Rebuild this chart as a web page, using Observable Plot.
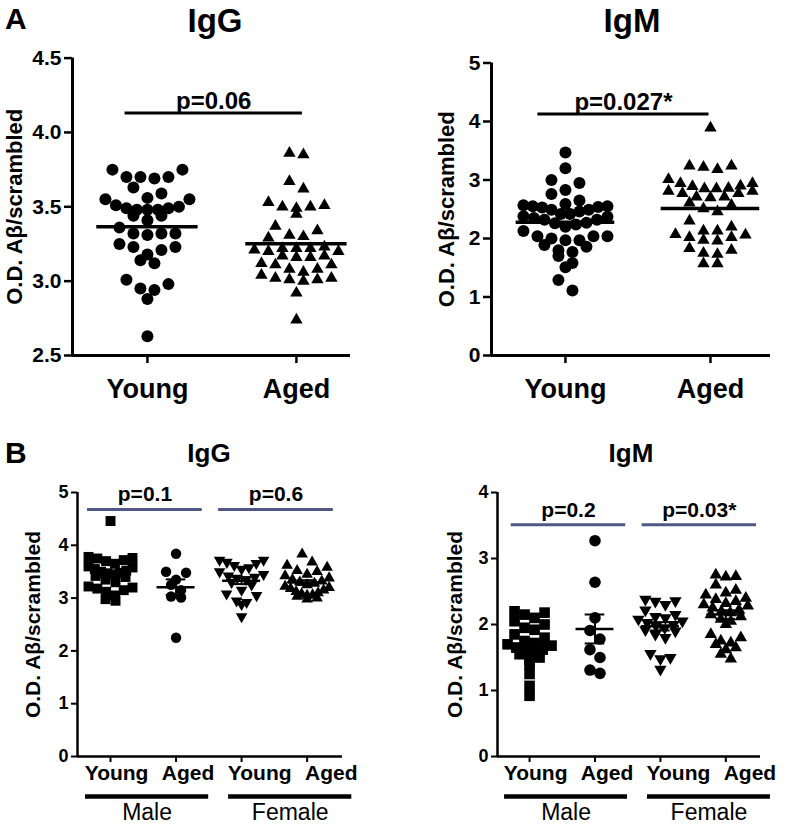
<!DOCTYPE html>
<html>
<head>
<meta charset="utf-8">
<script src="https://cdn.jsdelivr.net/npm/d3@7"></script>
<script src="https://cdn.jsdelivr.net/npm/@observablehq/plot@0.6"></script>
<style>
  body { margin: 0; background: #fff; }
  #fig { position: relative; width: 787px; height: 826px; overflow: hidden; background: #fff;
         font-family: "Liberation Sans", Arial, Helvetica, sans-serif; color: #000; }
  .lbl { position: absolute; font-weight: bold; line-height: 1; white-space: nowrap; }
  .ctr { transform: translateX(-50%); }
  .pnl { position: absolute; }
</style>
</head>
<body>
<div id="fig"></div>
<script>
// ---------------- DATA ----------------
const groupsA = ["Young", "Aged"];
const groupsB = ["Young", "Aged", "Young", "Aged"];
const sexesB = ["Male", "Female"];

const yTicksAIgG = [2.5, 3.0, 3.5, 4.0, 4.5];
const yTicksAIgM = [0, 1, 2, 3, 4, 5];
const yTicksBIgG = [0, 1, 2, 3, 4, 5];
const yTicksBIgM = [0, 1, 2, 3, 4];

// Panel A, IgG
const aIgGYoung = [3.75, 3.70, 3.70, 3.69, 3.70, 3.75, 3.59, 3.55, 3.55, 3.56, 3.63, 3.50, 3.48, 3.48, 3.44, 3.44,
  3.51, 3.49, 3.48, 3.49, 3.41, 3.36, 3.32, 3.31, 3.32, 3.32, 3.25, 3.23, 3.18, 3.14, 3.12, 3.21, 3.23, 2.98,
  3.01, 2.94, 2.88, 2.95, 2.63];
const aIgGAged = [3.86, 3.85, 3.67, 3.62, 3.53, 3.50, 3.49, 3.50, 3.51, 3.45, 3.37, 3.31, 3.34, 3.29, 3.30, 3.17,
  3.22, 3.16, 3.21, 3.20, 3.20, 3.22, 3.23, 3.22, 3.16, 3.17, 3.11, 3.08, 3.06, 3.08, 3.11, 3.12, 3.02, 3.01,
  3.00, 3.01, 3.02, 3.04, 2.92, 2.74];
// Panel A, IgM
const aIgMYoung = [3.47, 3.20, 2.95, 3.00, 2.83, 2.76, 2.65, 2.57, 2.55, 2.53, 2.54, 2.55, 2.59, 2.49, 2.49, 2.42,
  2.38, 2.35, 2.32, 2.26, 2.24, 2.27, 2.32, 2.37, 2.42, 2.46, 2.20, 2.13, 2.04, 2.00, 1.97, 1.86, 1.89, 1.97,
  2.04, 2.04, 1.77, 1.58, 1.51, 1.70, 1.80, 1.29, 1.11];
const aIgMAged = [3.89, 3.24, 3.22, 3.18, 3.24, 3.01, 2.94, 2.94, 2.90, 2.89, 2.85, 2.81, 2.77, 2.71, 2.70, 2.71,
  2.77, 2.81, 2.85, 2.86, 2.61, 2.51, 2.46, 2.57, 2.30, 2.13, 2.06, 2.02, 1.96, 1.97, 2.02, 2.07, 2.13, 2.20,
  1.80, 1.73, 1.75, 1.83, 1.57, 1.57];
// Panel B, IgG
const bIgGMaleYoung = [4.46, 3.78, 3.76, 3.75, 3.72, 3.70, 3.65, 3.60, 3.58, 3.55, 3.52, 3.50, 3.48, 3.47, 3.45,
  3.42, 3.40, 3.35, 3.30, 3.22, 3.20, 3.18, 3.15, 3.12, 3.05, 2.98, 2.95];
const bIgGMaleAged = [3.84, 3.50, 3.48, 3.35, 3.25, 3.15, 3.03, 3.01, 2.25];
const bIgGFemaleYoung = [3.72, 3.72, 3.68, 3.66, 3.62, 3.58, 3.55, 3.50, 3.45, 3.42, 3.40, 3.38, 3.35, 3.30, 3.25,
  3.15, 3.08, 3.05, 2.95, 2.92, 2.88, 2.65];
const bIgGFemaleAged = [3.83, 3.68, 3.62, 3.58, 3.52, 3.50, 3.45, 3.42, 3.38, 3.35, 3.32, 3.30, 3.28, 3.25, 3.22,
  3.20, 3.18, 3.15, 3.12, 3.10, 3.08, 3.06, 3.05, 3.03, 3.00, 2.98];
// Panel B, IgM
const bIgMMaleYoung = [2.20, 2.18, 2.15, 2.10, 2.05, 2.00, 1.95, 1.92, 1.85, 1.80, 1.75, 1.72, 1.70, 1.68, 1.65,
  1.62, 1.60, 1.58, 1.55, 1.50, 1.45, 1.40, 1.25, 1.07, 0.92];
const bIgMMaleAged = [3.27, 2.64, 2.10, 1.91, 1.78, 1.62, 1.50, 1.26, 1.31];
const bIgMFemaleYoung = [2.38, 2.36, 2.35, 2.30, 2.22, 2.15, 2.12, 2.10, 2.08, 2.05, 2.03, 2.00, 1.98, 1.95, 1.92,
  1.90, 1.85, 1.80, 1.56, 1.50, 1.48, 1.32];
const bIgMFemaleAged = [2.75, 2.73, 2.72, 2.60, 2.52, 2.48, 2.45, 2.40, 2.38, 2.35, 2.32, 2.30, 2.28, 2.25, 2.22,
  2.20, 2.18, 2.15, 2.12, 2.08, 2.05, 2.00, 1.85, 1.80, 1.75, 1.72, 1.70, 1.65, 1.62, 1.55, 1.48];

// p-value comparisons: group indices (1-based), level, label
const compsAIgG = [{a: 1, b: 2, y: 4.13, label: "p=0.06"}];
const compsAIgM = [{a: 1, b: 2, y: 4.13, label: "p=0.027*"}];
const compsBIgG = [{a: 1, b: 2, y: 4.68, label: "p=0.1"}, {a: 3, b: 4, y: 4.68, label: "p=0.6"}];
const compsBIgM = [{a: 1, b: 2, y: 3.51, label: "p=0.2"}, {a: 3, b: 4, y: 3.51, label: "p=0.03*"}];
const sexSpan = [{sex: sexesB[0], a: 1, b: 2}, {sex: sexesB[1], a: 3, b: 4}];

const yLabel = "O.D. A\u03b2/scrambled";

// ---------------- DRAWING ----------------
const SQ3 = Math.sqrt(3);
const triangleDown = {
  draw(ctx, size) {
    const y = -Math.sqrt(size / (SQ3 * 3));
    ctx.moveTo(0, -2 * y);
    ctx.lineTo(-SQ3 * y, y);
    ctx.lineTo(SQ3 * y, y);
    ctx.closePath();
  }
};

// GraphPad-like scatter: values close in y share a row and are spread horizontally
function swarm(values, pxY, pxX, rowPx, stepPx, maxPx) {
  const idx = d3.range(values.length).sort((a, b) => values[b] - values[a]);
  const off = new Array(values.length).fill(0);
  let i = 0;
  while (i < idx.length) {
    const start = values[idx[i]];
    let j = i;
    while (j < idx.length && (start - values[idx[j]]) * pxY < rowPx) j++;
    const row = idx.slice(i, j);
    const n = row.length;
    const step = n > 1 ? Math.min(stepPx, maxPx / (n - 1)) : 0;
    const slots = d3.range(n).map(k => (k - (n - 1) / 2) * step);
    const order = d3.range(n).sort((p, q) => Math.abs(slots[q]) - Math.abs(slots[p]) || slots[p] - slots[q]);
    row.forEach((r, k) => off[r] = slots[order[k]] / pxX);
    i = j;
  }
  return off;
}

function makePanel(o) {
  const pxX = (o.width - o.mL - o.mR) / (o.xDomain[1] - o.xDomain[0]);
  const pxY = (o.height - o.mT - o.mB) / (o.yDomain[1] - o.yDomain[0]);
  const points = [];
  const stats = [];
  o.series.forEach((vals, gi) => {
    const off = swarm(vals, pxY, pxX, o.rowPx, o.stepPx, o.maxPx);
    vals.forEach((v, k) => points.push({g: gi + 1, v, x: gi + 1 + off[k]}));
    const m = d3.mean(vals);
    const sem = d3.deviation(vals) / Math.sqrt(vals.length);
    stats.push({g: gi + 1, mean: m, lo: m - sem, hi: m + sem});
  });
  const y0 = o.yDomain[0];
  const marks = [
    Plot.ruleX([o.xDomain[0]], {stroke: "black", strokeWidth: o.axisW}),
    Plot.ruleY([y0], {stroke: "black", strokeWidth: o.axisW}),
    Plot.axisY({ticks: o.yTicks, tickFormat: o.yFmt, tickSize: o.tickLen, tickPadding: 3,
      fontSize: o.tickFont, fontWeight: "bold", strokeWidth: o.tickW, label: null}),
    Plot.axisX({ticks: o.groups.map((_, i) => i + 1), tickFormat: () => "", tickSize: o.tickLen,
      strokeWidth: o.tickW, label: null}),
    Plot.text(o.groups.map((g, i) => ({i: i + 1, g})), {
      x: d => d.i * o.labelSpread, y: y0, text: "g", dy: o.catDy, lineAnchor: "top",
      fontSize: o.catFont, fontWeight: "bold", fill: "black"}),
    Plot.text([yLabel], {frameAnchor: "left", textAnchor: "middle", lineAnchor: "middle",
      rotate: -90, dx: -o.yLabelOff, text: d => d,
      fontSize: o.yLabelFont, fontWeight: "bold", fill: "black"})
  ];
  o.series.forEach((_, gi) => {
    marks.push(Plot.dot(points.filter(p => p.g === gi + 1), {
      x: "x", y: "v", r: o.radii[gi], symbol: o.symbols[gi], fill: "black", stroke: "none"}));
  });
  marks.push(Plot.ruleY(stats, {y: "mean", x1: d => d.g - o.meanHalf, x2: d => d.g + o.meanHalf,
    stroke: "black", strokeWidth: o.meanW}));
  if (o.sem) {
    marks.push(Plot.ruleY(stats, {y: "lo", x1: d => d.g - o.capHalf, x2: d => d.g + o.capHalf, stroke: "black", strokeWidth: o.semW}));
    marks.push(Plot.ruleY(stats, {y: "hi", x1: d => d.g - o.capHalf, x2: d => d.g + o.capHalf, stroke: "black", strokeWidth: o.semW}));
    marks.push(Plot.ruleX(stats, {x: "g", y1: "lo", y2: "hi", stroke: "black", strokeWidth: o.semW}));
  }
  const px1 = d => d.a - o.pExt[0], px2 = d => d.b + o.pExt[1];
  marks.push(Plot.ruleY(o.comps, {y: "y", x1: px1, x2: px2, stroke: o.pColor, strokeWidth: o.pW}));
  marks.push(Plot.text(o.comps, {x: d => (px1(d) + px2(d)) / 2, y: "y", text: "label", dy: -o.pGap,
    lineAnchor: "bottom", fontSize: o.pFont, fontWeight: "bold", fill: "black"}));
  if (o.sexes) {
    const sc = d => (d.a + d.b) / 2 * o.labelSpread - 0.08;
    marks.push(Plot.ruleY(o.sexes, {y: y0, x1: d => sc(d) - o.sexHalf, x2: d => sc(d) + o.sexHalf,
      dy: o.barDy, stroke: "black", strokeWidth: 4.5}));
    marks.push(Plot.text(o.sexes, {x: sc, y: y0, text: "sex", dy: o.sexDy, lineAnchor: "bottom",
      fontSize: o.sexFont, fontWeight: "normal", fill: "black"}));
  }
  const svg = Plot.plot({
    width: o.width, height: o.height,
    marginLeft: o.mL, marginRight: o.mR, marginTop: o.mT, marginBottom: o.mB,
    x: {type: "linear", domain: o.xDomain},
    y: {type: "linear", domain: o.yDomain},
    style: {fontFamily: '"Liberation Sans", Arial, Helvetica, sans-serif', color: "black",
      background: "transparent", overflow: "visible"},
    marks
  });
  const holder = document.createElement("div");
  holder.className = "pnl";
  holder.style.left = o.left + "px";
  holder.style.top = o.top + "px";
  holder.appendChild(svg);
  document.getElementById("fig").appendChild(holder);
}

const fmt1 = d3.format(".1f");
const fmt0 = d3.format("d");

const commonA = {top: 40, height: 380, mB: 65, rowPx: 11, stepPx: 14, maxPx: 84,
  axisW: 3, tickW: 2.5, tickLen: 8, tickFont: 21, catFont: 27, catDy: 23, labelSpread: 1,
  yLabelFont: 22, meanHalf: 0.34, meanW: 3.5, pColor: "black", pW: 3, pGap: 4, pFont: 24,
  radii: [6, 4.6], symbols: ["circle", "triangle"]};

makePanel({...commonA, left: 0, width: 370, mL: 72, mR: 20, mT: 17.6,
  xDomain: [0.497, 2.363], yDomain: [2.5, 4.5], yTicks: yTicksAIgG, yFmt: fmt1,
  groups: groupsA, series: [aIgGYoung, aIgGAged], yLabelOff: 58,
  comps: compsAIgG, pExt: [0.15, 0.04]});

makePanel({...commonA, left: 400, width: 387, mL: 91, mR: 17, mT: 22.5,
  xDomain: [0.49, 2.414], yDomain: [0, 5], yTicks: yTicksAIgM, yFmt: fmt0,
  groups: groupsA, series: [aIgMYoung, aIgMAged], yLabelOff: 45,
  comps: compsAIgM, pExt: [0.19, -0.01]});

const commonB = {top: 470, height: 356, mT: 22, mB: 70, rowPx: 9, stepPx: 10, maxPx: 44,
  axisW: 2.5, tickW: 2, tickLen: 6, tickFont: 18, catFont: 21, catDy: 9, labelSpread: 1.092,
  yLabelFont: 21, meanHalf: 0.29, meanW: 2.5, sem: true, capHalf: 0.15, semW: 2,
  pColor: "#4f5785", pW: 3, pGap: 8, pFont: 21, sexes: sexSpan, sexHalf: 0.94,
  barDy: 40, sexDy: 63, sexFont: 23,
  symbols: ["square", "circle", triangleDown, "triangle"]};

makePanel({...commonB, left: 0, width: 400, mL: 77, mR: 58,
  xDomain: [0.496, 4.54], yDomain: [0, 5], yTicks: yTicksBIgG, yFmt: fmt0,
  groups: groupsB, series: [bIgGMaleYoung, bIgGMaleAged, bIgGFemaleYoung, bIgGFemaleAged],
  radii: [5.6, 5.2, 4.3, 4.3], yLabelOff: 44, comps: compsBIgG, pExt: [0.35, 0.4]});

makePanel({...commonB, left: 410, width: 377, mL: 87, mR: 27,
  xDomain: [0.51, 4.53], yDomain: [0, 4], yTicks: yTicksBIgM, yFmt: fmt0,
  groups: groupsB, series: [bIgMMaleYoung, bIgMMaleAged, bIgMFemaleYoung, bIgMFemaleAged],
  radii: [6, 5.8, 4.6, 4.6], yLabelOff: 42, comps: compsBIgM, pExt: [0.28, 0.47]});

// Panel letters and titles
const fig = document.getElementById("fig");
function label(text, x, y, size, center) {
  const d = document.createElement("div");
  d.className = "lbl" + (center ? " ctr" : "");
  d.style.left = x + "px";
  d.style.top = y + "px";
  d.style.fontSize = size + "px";
  d.textContent = text;
  fig.appendChild(d);
}
label("A", 5, 4, 30, false);
label("B", 5, 438, 30, false);
label("IgG", 215, 4, 33, true);
label("IgM", 632, 4, 33, true);
label("IgG", 209, 440, 26, true);
label("IgM", 631, 440, 26, true);
</script>
</body>
</html>
